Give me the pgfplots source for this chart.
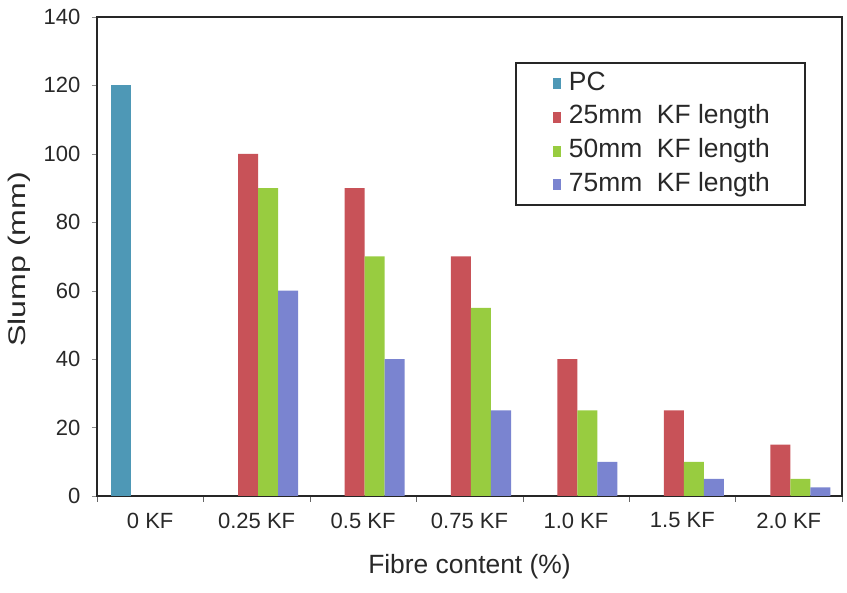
\documentclass[border=0pt]{standalone}
\usepackage{fontspec}
\setmainfont{Liberation Sans}
\usepackage{pgfplots}
\pgfplotsset{compat=1.18}
\definecolor{cPC}{RGB}{78,152,182}
\definecolor{cR}{RGB}{200,82,88}
\definecolor{cG}{RGB}{152,204,64}
\definecolor{cB}{RGB}{122,132,208}
\definecolor{txt}{RGB}{40,40,40}
\begin{document}
\fontsize{11}{13}\selectfont
\begin{tikzpicture}
\path[use as bounding box] (-48.5pt,-48.5pt) rectangle (375pt,248pt);
\begin{axis}[
  at={(0pt,0pt)}, anchor=south west,
  scale only axis, width=372.5pt, height=239.5pt,
  xmin=-0.5, xmax=6.5, ymin=0, ymax=140,
  ytick={0,20,...,140},
  xtick={0,...,6},
  xticklabels={0 KF,0.25 KF,0.5 KF,0.75 KF,1.0 KF,1.5 KF,2.0 KF},
  minor xtick={-0.5,0.5,...,6.5},
  major x tick style={draw=none},
  minor x tick style={black!60},
  minor tick length=3pt,
  major tick length=2.5pt,
  y tick style={black!45},
  tick align=outside,
  xtick pos=bottom, ytick pos=left,
  axis line style={line width=1pt, black!85},
  /pgf/number format/assume math mode=true,
  tick label style={font=\fontsize{11}{13}\selectfont, text=txt},
  yticklabel style={xshift=-2pt},
  xticklabel style={yshift=-2pt},
  xlabel={Fibre content (\%)},
  ylabel={\scalebox{1.34}[1]{Slump (mm)}},
  xlabel style={at={(axis description cs:0.5,0)}, anchor=center, yshift=-35.5pt, font=\fontsize{13.2}{15}\selectfont, text=txt},
  ylabel style={at={(axis description cs:-0.1047,0.494)}, anchor=center, font=\fontsize{12}{14}\selectfont, text=txt},
  ybar, bar width=0.188,
  legend cell align=left,
  legend style={at={(rel axis cs:0.561,0.906)}, anchor=north west, draw=black!85, line width=1pt,
    font=\fontsize{13.2}{15}\selectfont, text=txt, row sep=4.4pt, inner xsep=13.5pt, inner ysep=4pt,
    nodes={inner xsep=4pt, inner ysep=0pt, text height=9.5pt, text depth=3pt}},
  legend image code/.code={\path[draw=none,fill=none] (-5pt,0pt) -- (0pt,0pt); \fill[#1,draw=none] (0pt,-2.75pt) rectangle (4pt,2.75pt);},
]
\addplot[fill=cPC, draw=none, bar shift=-0.27] coordinates {(0,120)};
\addplot[fill=cR, draw=none, bar shift=-0.08] coordinates {(1,100) (2,90) (3,70) (4,40) (5,25) (6,15)};
\addplot[fill=cG, draw=none, bar shift=0.108] coordinates {(1,90) (2,70) (3,55) (4,25) (5,10) (6,5)};
\addplot[fill=cB, draw=none, bar shift=0.296] coordinates {(1,60) (2,40) (3,25) (4,10) (5,5) (6,2.5)};
\legend{PC,25mm\ \ KF length,50mm\ \ KF length,75mm\ \ KF length}
\end{axis}
\end{tikzpicture}
\end{document}
